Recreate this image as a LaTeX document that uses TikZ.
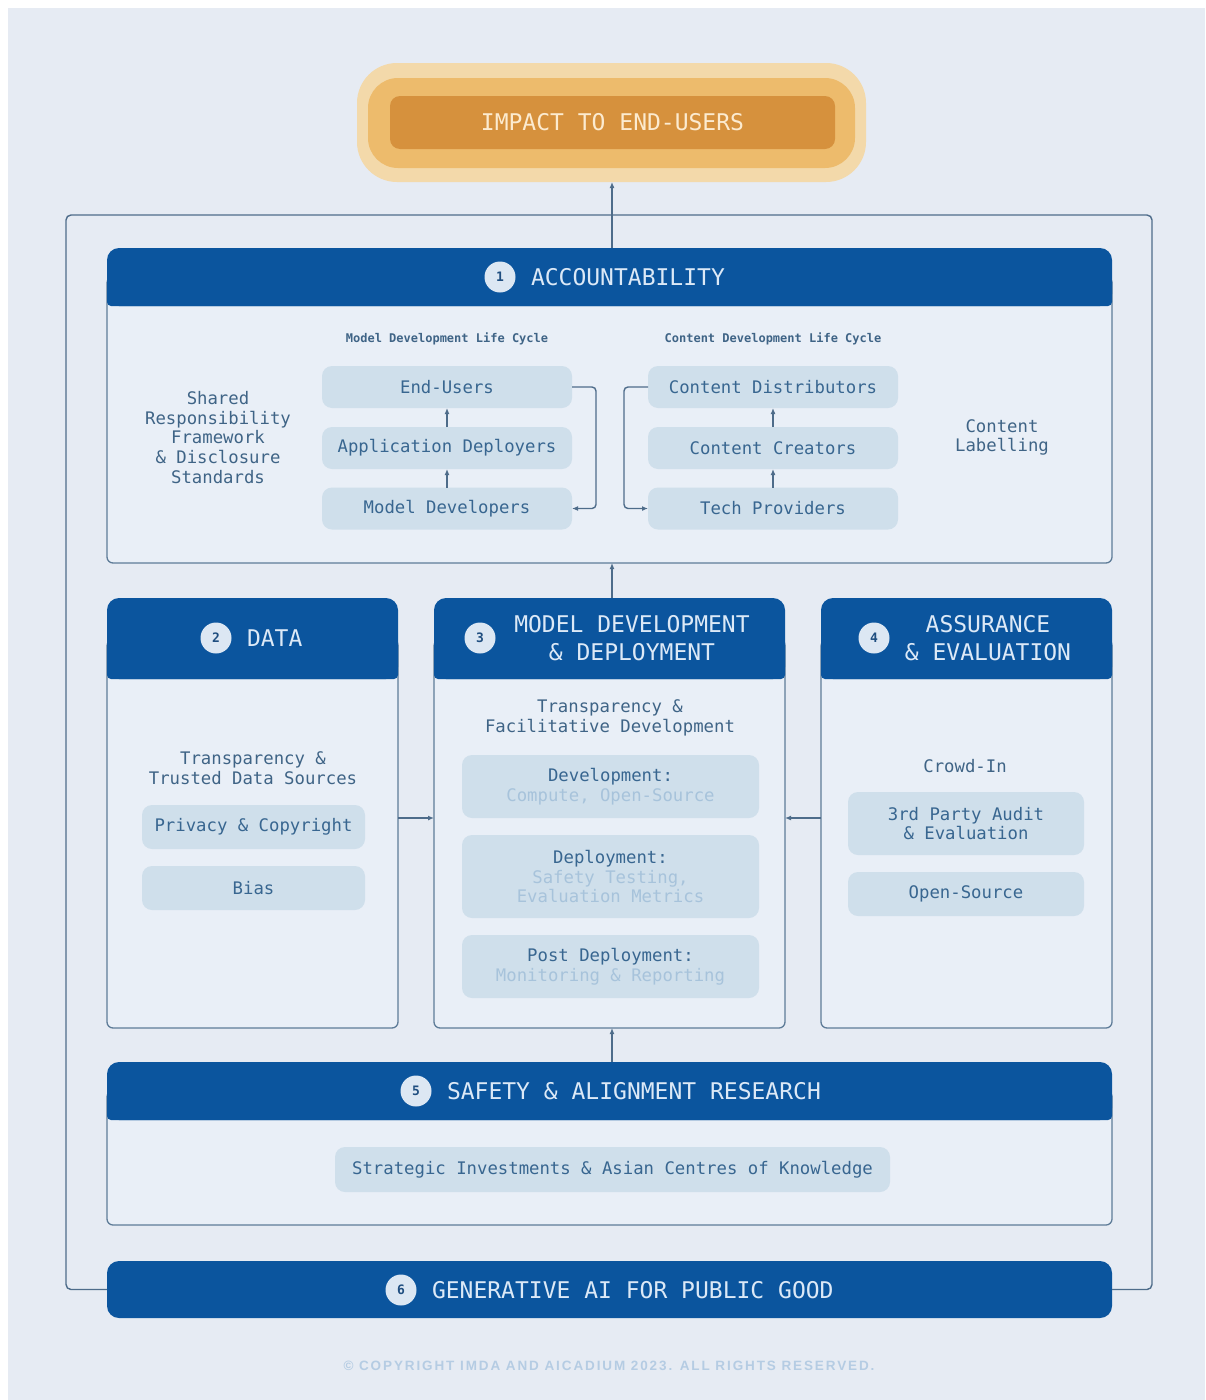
\documentclass[tikz,border=0pt]{standalone}
\usepackage{fontspec}
\setmonofont{DejaVu Sans Mono}
\setsansfont{DejaVu Sans}
\newfontfamily\copyfont[LetterSpace=14]{Liberation Sans}
\usetikzlibrary{calc,arrows.meta}

\definecolor{pagebg}{HTML}{E6EBF3}
\definecolor{hdrblue}{HTML}{0B559E}
\definecolor{hdrtext}{HTML}{DCE9F7}
\definecolor{numfill}{HTML}{DCE7F3}
\definecolor{numtext}{HTML}{1F4E80}
\definecolor{bodyfill}{HTML}{E9EFF7}
\definecolor{boxline}{HTML}{5E7C98}
\definecolor{linec}{HTML}{4E6C8A}
\definecolor{pillfill}{HTML}{CFDFEB}
\definecolor{pilltext}{HTML}{386690}
\definecolor{plaintext}{HTML}{3F6486}
\definecolor{paletext}{HTML}{A7C3DB}
\definecolor{orangeA}{HTML}{F3D9AA}
\definecolor{orangeB}{HTML}{EDBB6C}
\definecolor{orangeC}{HTML}{D6913D}
\definecolor{orangetext}{HTML}{FCEBD0}
\definecolor{copytext}{HTML}{B5CCE3}

\tikzset{
  every node/.style={inner sep=0pt, outer sep=0pt},
  arr/.style={draw=linec, line width=1.4pt, -{Latex[length=6pt,width=5pt]}},
  framec/.style={draw=linec, line width=1.4pt},
  secbody/.style={draw=boxline, line width=1.3pt, fill=bodyfill, rounded corners=6pt},
  sechead/.style={fill=hdrblue, rounded corners=12pt},
  num/.style={circle, fill=numfill, minimum size=31pt, text=numtext,
    font=\fontsize{13}{13}\selectfont\ttfamily\bfseries},
  title/.style={text=hdrtext, align=center,
    font=\fontsize{23}{28}\selectfont\ttfamily},
  pill/.style={fill=pillfill, rounded corners=10pt, text=pilltext, align=center,
    font=\fontsize{17.3}{19.5}\selectfont\ttfamily},
  plain/.style={text=plaintext, align=center,
    font=\fontsize{17.3}{19.8}\selectfont\ttfamily},
  cyclehead/.style={text=plaintext, font=\fontsize{12}{12}\selectfont\ttfamily\bfseries}
}

\newcommand{\subline}[1]{\textcolor{paletext}{#1}}
% squares off the lower corners of a section header
\newcommand{\headbase}[1]{\fill[hdrblue, rounded corners=4pt] (#1.west) rectangle (#1.south east);}

\begin{document}
\begin{tikzpicture}[x=1pt,y=-1pt]
  % canvas
  \fill[white] (0,0) rectangle (1205,1400);
  \fill[pagebg] (8,8) rectangle (1205,1400);
  \useasboundingbox (0,0) rectangle (1205,1400);

  % top goal box with layered glow
  \node[fill=orangeA, rounded corners=40pt, minimum width=509pt, minimum height=119pt] (impact) at (611.5,122.5) {};
  \node[fill=orangeB, rounded corners=30pt, minimum width=487pt, minimum height=90pt] (impactmid) at (611.5,123) {};
  \node[fill=orangeC, rounded corners=10pt, minimum width=445pt, minimum height=53pt,
        text=orangetext, font=\fontsize{23}{23}\selectfont\ttfamily] (impacttxt) at (612.5,122.5) {IMPACT TO END-USERS};

  % 1 accountability
  \node[secbody, minimum width=1005pt, minimum height=286pt] (accb) at (609.5,420) {};
  \node[sechead, minimum width=1005pt, minimum height=58pt] (acch) at (609.5,277) {};
  \headbase{acch}
  \node[num] (n1) at (500,277) {1};
  \node[title, anchor=west] (t1) at (531,277) {ACCOUNTABILITY};

  \node[plain] (shared) at (218,437.5) {Shared\\Responsibility\\Framework\\\& Disclosure\\Standards};
  \node[plain] (label) at (1002,437.5) {Content\\Labelling};
  \node[cyclehead] (mdlc) at (447,339) {Model Development Life Cycle};
  \node[cyclehead] (cdlc) at (773,339) {Content Development Life Cycle};

  \node[pill, minimum width=250pt, minimum height=42pt] (eu) at (447,387) {End-Users};
  \node[pill, minimum width=250pt, minimum height=42pt] (ad) at (447,448) {Application Deployers};
  \node[pill, minimum width=250pt, minimum height=42pt] (md) at (447,508.5) {Model Developers};
  \node[pill, minimum width=250pt, minimum height=42pt] (cd) at (773,387) {Content Distributors};
  \node[pill, minimum width=250pt, minimum height=42pt] (cc) at (773,448) {Content Creators};
  \node[pill, minimum width=250pt, minimum height=42pt] (tp) at (773,508.5) {Tech Providers};

  \draw[arr] (ad.north) -- (eu.south);
  \draw[arr] (md.north) -- (ad.south);
  \draw[arr] (cc.north) -- (cd.south);
  \draw[arr] (tp.north) -- (cc.south);
  \draw[arr, rounded corners=4pt] (eu.east) -- ++(24,0) |- (md.east);
  \draw[arr, rounded corners=4pt] (cd.west) -- ++(-24,0) |- (tp.west);

  % 2 data
  \node[secbody, minimum width=291pt, minimum height=388pt] (datab) at (252.5,834) {};
  \node[sechead, minimum width=291pt, minimum height=81pt] (datah) at (252.5,638.5) {};
  \headbase{datah}
  \node[num] (n2) at (216,638) {2};
  \node[title, anchor=west] (t2) at (247,638) {DATA};
  \node[plain] (datatxt) at (253,768.5) {Transparency \&\\Trusted Data Sources};
  \node[pill, minimum width=223pt, minimum height=44pt] (priv) at (253.5,827) {Privacy \& Copyright};
  \node[pill, minimum width=223pt, minimum height=44pt] (bias) at (253.5,888) {Bias};

  % 3 model development & deployment
  \node[secbody, minimum width=351pt, minimum height=388pt] (mdb) at (609.5,834) {};
  \node[sechead, minimum width=351pt, minimum height=81pt] (mdh) at (609.5,638.5) {};
  \headbase{mdh}
  \node[num] (n3) at (480,638) {3};
  \node[title] (t3) at (632,638) {MODEL DEVELOPMENT\\\& DEPLOYMENT};
  \node[plain] (mdtxt) at (610,717.5) {Transparency \&\\Facilitative Development};
  \node[pill, minimum width=297pt, minimum height=63pt] (dev) at (610.5,786.5) {Development:\\\subline{Compute, Open-Source}};
  \node[pill, minimum width=297pt, minimum height=83pt] (dep) at (610.5,876.5) {Deployment:\\\subline{Safety Testing,}\\\subline{Evaluation Metrics}};
  \node[pill, minimum width=297pt, minimum height=63pt] (post) at (610.5,966.5) {Post Deployment:\\\subline{Monitoring \& Reporting}};

  % 4 assurance & evaluation
  \node[secbody, minimum width=291pt, minimum height=388pt] (asb) at (966.5,834) {};
  \node[sechead, minimum width=291pt, minimum height=81pt] (ash) at (966.5,638.5) {};
  \headbase{ash}
  \node[num] (n4) at (874,638) {4};
  \node[title] (t4) at (988,638) {ASSURANCE\\\& EVALUATION};
  \node[plain] (crowd) at (965,766) {Crowd-In};
  \node[pill, minimum width=236pt, minimum height=63pt] (audit) at (966,823.5) {3rd Party Audit\\\& Evaluation};
  \node[pill, minimum width=236pt, minimum height=44pt] (open) at (966,894) {Open-Source};

  % 5 safety & alignment research
  \node[secbody, minimum width=1005pt, minimum height=134pt] (safb) at (609.5,1158) {};
  \node[sechead, minimum width=1005pt, minimum height=58pt] (safh) at (609.5,1091) {};
  \headbase{safh}
  \node[num] (n5) at (416,1091) {5};
  \node[title, anchor=west] (t5) at (447,1091) {SAFETY \& ALIGNMENT RESEARCH};
  \node[pill, minimum width=555pt, minimum height=45pt] (invest) at (612.5,1169.5) {Strategic Investments \& Asian Centres of Knowledge};

  % 6 generative AI for public good
  \node[sechead, minimum width=1005pt, minimum height=57pt] (pg) at (609.5,1289.5) {};
  \node[num] (n6) at (401,1290) {6};
  \node[title, anchor=west] (t6) at (432,1290) {GENERATIVE AI FOR PUBLIC GOOD};

  % outer frame linking public good to the top
  \coordinate (frameL) at (66,215);
  \coordinate (frameR) at (1152,215);
  \draw[framec, rounded corners=5pt] (pg.west) -| (frameL) -- (frameR) |- (pg.east);

  % flows between sections
  \draw[arr] ([xshift=2.5pt]acch.north) -- ([xshift=2.5pt]acch.north |- impact.south);
  \draw[arr] ([xshift=2.5pt]mdh.north) -- ([xshift=2.5pt]mdh.north |- accb.south);
  \draw[arr] ([xshift=2.5pt]safh.north) -- ([xshift=2.5pt]safh.north |- mdb.south);
  \draw[arr] ($(datab.east)+(0,-16)$) -- ($(datab.east -| mdb.west)+(0,-16)$);
  \draw[arr] ($(asb.west)+(0,-16)$) -- ($(asb.west -| mdb.east)+(0,-16)$);

  % footer
  \node[text=copytext, font=\fontsize{13.5}{13.5}\selectfont\copyfont\bfseries] (copy) at (609,1366)
    {© COPYRIGHT IMDA AND AICADIUM 2023. ALL RIGHTS RESERVED.};
\end{tikzpicture}
\end{document}
